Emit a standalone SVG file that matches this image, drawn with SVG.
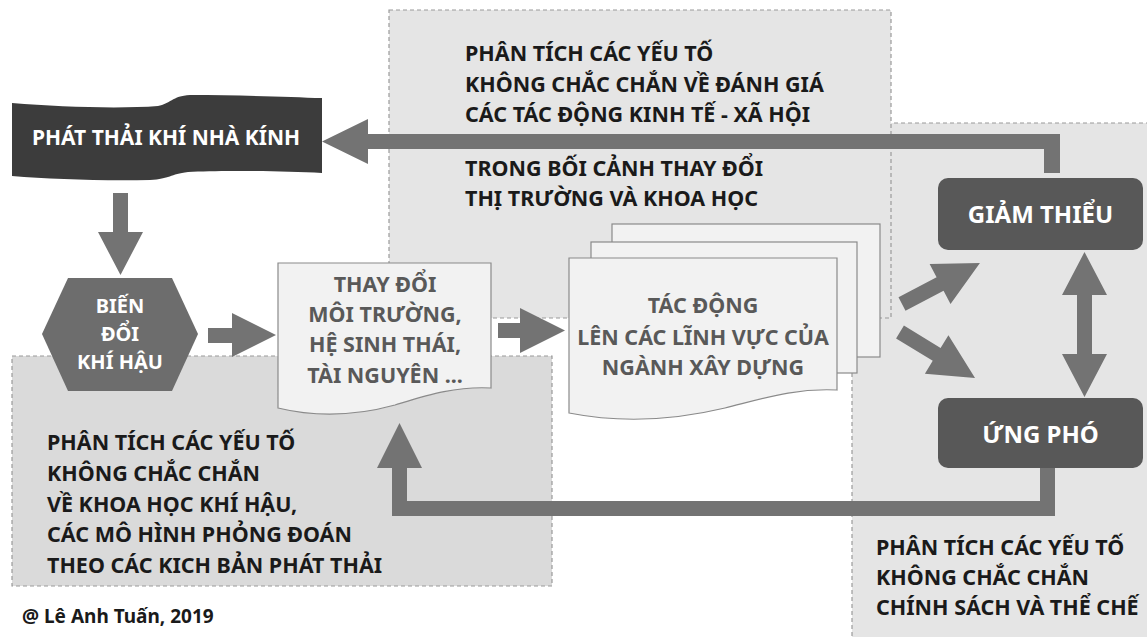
<svg xmlns="http://www.w3.org/2000/svg" width="1147" height="637" viewBox="0 0 1147 637">
<style>
.region{fill:#e5e5e5;stroke:#9a9a9a;stroke-width:1.2;stroke-dasharray:4 3}
.regionB{fill:#dadada;stroke:#9a9a9a;stroke-width:1.2;stroke-dasharray:4 3}
.rt{font-family:"Noto Sans","Open Sans","Liberation Sans",sans-serif;font-weight:700;font-size:21.5px;fill:#1a1a1a}
.doc{fill:#f2f2f2;stroke:#8a8a8a;stroke-width:1.2}
.dt{font-family:"Noto Sans","Open Sans","Liberation Sans",sans-serif;font-weight:700;font-size:21.5px;fill:#595959;text-anchor:middle}
.wt{font-family:"Noto Sans","Open Sans","Liberation Sans",sans-serif;font-weight:700;fill:#ffffff;text-anchor:middle}
.arr{fill:#737373}
.dark{fill:#585858}
</style>

<!-- regions -->
<g id="region-policy">
<rect class="region" x="852" y="123" width="300" height="520"/>
<text class="rt" x="876" y="555">PHÂN TÍCH CÁC Y&#x1EBE;U T&#x1ED0;</text>
<text class="rt" x="876" y="585">KHÔNG CH&#x1EAE;C CH&#x1EAE;N</text>
<text class="rt" x="876" y="615">CHÍNH SÁCH VÀ TH&#x1EC2; CH&#x1EBE;</text>
</g>
<g id="region-economic">
<rect class="region" x="389" y="10" width="502" height="308"/>
<text class="rt" x="465" y="61">PHÂN TÍCH CÁC Y&#x1EBE;U T&#x1ED0;</text>
<text class="rt" x="465" y="92">KHÔNG CH&#x1EAE;C CH&#x1EAE;N V&#x1EC0; ĐÁNH GIÁ</text>
<text class="rt" x="465" y="122">CÁC TÁC Đ&#x1ED8;NG KINH T&#x1EBE; - XÃ H&#x1ED8;I</text>
<text class="rt" x="465" y="176">TRONG B&#x1ED0;I C&#x1EA2;NH THAY Đ&#x1ED4;I</text>
<text class="rt" x="465" y="206">TH&#x1ECA; TR&#x1AF;&#x1EDC;NG VÀ KHOA H&#x1ECC;C</text>
</g>
<g id="region-science">
<rect class="regionB" x="12" y="356" width="540" height="230"/>
<text class="rt" x="47" y="450">PHÂN TÍCH CÁC Y&#x1EBE;U T&#x1ED0;</text>
<text class="rt" x="47" y="481">KHÔNG CH&#x1EAE;C CH&#x1EAE;N</text>
<text class="rt" x="47" y="512">V&#x1EC0; KHOA H&#x1ECC;C KHÍ H&#x1EAC;U,</text>
<text class="rt" x="47" y="542">CÁC MÔ HÌNH PH&#x1ECE;NG ĐOÁN</text>
<text class="rt" x="47" y="573">THEO CÁC KICH B&#x1EA2;N PHÁT TH&#x1EA2;I</text>
</g>

<!-- connectors -->
<g id="connectors">
<path class="arr" d="M1060,173 V134 H368 V119 L322,141.5 L368,164 V149 H1044 V173 Z"/>
<path class="arr" d="M113,193 H128 V232 H143 L120.5,275 L98,232 H113 Z"/>
<path class="arr" d="M208,328 H232 V313 L276,335 L232,357 V343 H208 Z"/>
<path class="arr" d="M498,323 H520 V308 L565,330.5 L520,353 V338 H498 Z"/>
<path class="arr" transform="translate(902,304) rotate(-27.7)" d="M0,-7.5 H43 V-22.5 L88,0 L43,22.5 V7.5 H0 Z"/>
<path class="arr" transform="translate(900,332) rotate(31.5)" d="M0,-7.5 H43 V-22.5 L88,0 L43,22.5 V7.5 H0 Z"/>
<path class="arr" d="M1084.5,252 L1107,295 H1092 V354 H1107 L1084.5,397 L1062,354 H1077 V295 H1062 Z"/>
<path class="arr" d="M1040,468 H1055 V516 H392 V468 H377 L399.5,423 L422,468 H407 V501 H1040 Z"/>
</g>

<!-- nodes -->
<g id="node-emission">
<path fill="#3c3c3c" d="M12,103 C60,107 120,109 158,106 C170,104 172,96 190,95 C240,95 290,97 322,98 L322,173 C280,171 220,170 188,172 C170,174 170,179 150,180 C100,181 50,179 12,176 Z"/>
<text class="wt" x="166" y="145" font-size="21">PHÁT TH&#x1EA2;I KHÍ NHÀ KÍNH</text>
</g>
<g id="node-climate">
<polygon fill="#6d6d6d" points="68,278 172,278 198,334 172,391 68,391 42,334"/>
<text class="wt" x="120" y="313" font-size="20">BI&#x1EBE;N</text>
<text class="wt" x="120" y="341" font-size="20">Đ&#x1ED4;I</text>
<text class="wt" x="120" y="369" font-size="20">KHÍ H&#x1EAC;U</text>
</g>
<g id="node-environment">
<path class="doc" d="M278,263 H491 V388 C455,386 425,396 395,405 C355,416 315,417 278,408 Z"/>
<text class="dt" x="385" y="292">THAY Đ&#x1ED4;I</text>
<text class="dt" x="385" y="322">MÔI TR&#x1AF;&#x1EDC;NG,</text>
<text class="dt" x="385" y="352">H&#x1EC6; SINH THÁI,</text>
<text class="dt" x="385" y="383">TÀI NGUYÊN ...</text>
</g>
<g id="node-impact">
<rect class="doc" x="612" y="224" width="268" height="133"/>
<rect class="doc" x="591" y="242" width="266" height="131"/>
<path class="doc" d="M569,258 H837 V390 C795,388 765,398 725,408 C675,420 620,423 569,413 Z"/>
<text class="dt" x="703" y="313">TÁC Đ&#x1ED8;NG</text>
<text class="dt" x="703" y="345">LÊN CÁC L&#x128;NH V&#x1EF0;C C&#x1EE6;A</text>
<text class="dt" x="703" y="375">NGÀNH XÂY D&#x1EF0;NG</text>
</g>
<g id="node-mitigation">
<rect class="dark" x="938" y="178" width="205" height="72" rx="10"/>
<text class="wt" x="1040.5" y="223" font-size="24">GI&#x1EA2;M THI&#x1EC2;U</text>
</g>
<g id="node-adaptation">
<rect class="dark" x="938" y="398" width="205" height="70" rx="10"/>
<text class="wt" x="1040.5" y="443" font-size="24">&#x1EE8;NG PHÓ</text>
</g>

<text x="22" y="623" font-family="Noto Sans, Open Sans, Liberation Sans, sans-serif" font-weight="700" font-size="19" fill="#1a1a1a">@ Lê Anh Tu&#x1EA5;n, 2019</text>
</svg>
